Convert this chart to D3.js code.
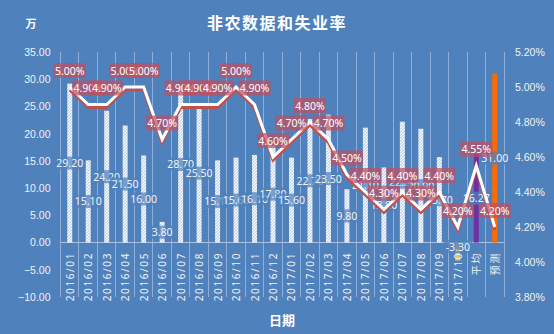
<!DOCTYPE html>
<html><head><meta charset="utf-8">
<script src="https://cdn.jsdelivr.net/npm/d3@7"></script>
<style>
html,body{margin:0;padding:0;background:#4F81BD;}
svg{display:block;font-family:"Noto Sans","Noto Sans CJK SC",sans-serif;}
</style></head>
<body>
<svg id="c" width="554" height="334"></svg>
<script>
const categories = ["2016/01","2016/02","2016/03","2016/04","2016/05","2016/06","2016/07","2016/08","2016/09","2016/10","2016/11","2016/12",
  "2017/01","2017/02","2017/03","2017/04","2017/05","2017/06","2017/07","2017/08","2017/09","2017/10","平均","预测"];
const nonfarm = [29.2,15.1,24.2,21.5,16.0,3.8,28.7,25.5,15.1,15.6,16.1,17.8,15.6,22.7,23.5,9.8,21.1,13.8,22.2,20.9,15.7,-3.3,16.27,31.0];
const unemployment = [5.0,4.9,4.9,5.0,5.0,4.7,4.9,4.9,4.9,5.0,4.9,4.6,4.7,4.8,4.7,4.5,4.4,4.3,4.4,4.3,4.4,4.2,4.55,4.2];
const barKinds = ["h","h","h","h","h","h","h","h","h","h","h","h","h","h","h","h","h","h","h","h","h","y","p","o"];
const leftTicks = [35,30,25,20,15,10,5,0,-5,-10];
const rightTicks = [5.2,5.0,4.8,4.6,4.4,4.2,4.0,3.8];
const title = "非农数据和失业率";
const leftUnit = "万";
const xTitle = "日期";

const svg = d3.select("#c");
const W = 554, H = 334;
const L = 60.5, R = 504, T = 52, B = 297;
svg.append("rect").attr("width",W).attr("height",H).attr("fill","#4F81BD");

const defs = svg.append("defs");
const pat = defs.append("pattern").attr("id","hatch").attr("patternUnits","userSpaceOnUse")
  .attr("width",3).attr("height",3);
pat.append("path").attr("d","M-1,1 L1,-1 M0,3 L3,0 M2,4 L4,2").attr("stroke","#fff").attr("stroke-width",1.7);

const x = d3.scaleBand().domain(categories).range([L,R]).padding(0);
const yL = d3.scaleLinear().domain([-10,35]).range([B,T]);
const yR = d3.scaleLinear().domain([3.8,5.2]).range([B,T]);

// gridlines (vertical, category boundaries)
const bounds = categories.map(c=>x(c)).concat([R]);
svg.append("g").selectAll("line").data(bounds).join("line")
  .attr("x1",d=>d).attr("x2",d=>d).attr("y1",T).attr("y2",B)
  .attr("stroke","#8FAEDA").attr("stroke-width",1).attr("shape-rendering","crispEdges");
// zero baseline
svg.append("line").attr("x1",L).attr("x2",R).attr("y1",yL(0)).attr("y2",yL(0))
  .attr("stroke","#A9C0E3").attr("stroke-width",1).attr("shape-rendering","crispEdges");

// axes
const axL = svg.append("g").attr("transform",`translate(${L},0)`)
  .call(d3.axisLeft(yL).tickValues(leftTicks).tickFormat(d3.format(".2f")).tickSize(0).tickPadding(10));
axL.select(".domain").remove();
axL.selectAll("text").attr("fill","#F2F2F2").attr("font-size","10.5px");
const axR = svg.append("g").attr("transform",`translate(${R},0)`)
  .call(d3.axisRight(yR).tickValues(rightTicks).tickFormat(d=>d.toFixed(2)+"%").tickSize(0).tickPadding(11));
axR.select(".domain").remove();
axR.selectAll("text").attr("fill","#F2F2F2").attr("font-size","10.5px");

// bars
const bw = 5;
const colorOf = k => k==="h" ? "url(#hatch)" : k==="y" ? "#EBC25A" : k==="p" ? "#7030A0" : "#FF6A00";
const data = categories.map((c,i)=>({c, v:nonfarm[i], u:unemployment[i], k:barKinds[i]}));
svg.append("g").selectAll("rect").data(data).join("rect")
  .attr("x",d=>x(d.c)+x.bandwidth()/2-bw/2)
  .attr("width",bw)
  .attr("y",d=>Math.min(yL(d.v),yL(0)))
  .attr("height",d=>Math.abs(yL(d.v)-yL(0)))
  .attr("fill",d=>colorOf(d.k));

// bar labels (centered in bar)
const bl = svg.append("g");
data.forEach(d=>{
  const cx = x(d.c)+x.bandwidth()/2;
  const cy = d.v<0 ? yL(0)+4 : (yL(d.v)+yL(0))/2;
  const g = bl.append("g");
  const t = g.append("text").attr("x",cx).attr("y",cy).attr("text-anchor","middle")
    .attr("dominant-baseline","central").attr("fill","#F2F2F2").attr("font-size","10.5px")
    .text(d.v.toFixed(2));
  const bb = t.node().getBBox();
  g.insert("rect","text").attr("x",bb.x-2).attr("y",cy-6.5).attr("width",bb.width+4).attr("height",13)
    .attr("fill","#4F81BD").attr("fill-opacity",0.72);
});

// line
const line = d3.line().x(d=>x(d.c)+x.bandwidth()/2).y(d=>yR(d.u));
svg.append("path").datum(data).attr("d",line).attr("fill","none").attr("stroke","#C0504D")
  .attr("stroke-width",3).attr("transform","translate(0,3)").attr("stroke-linejoin","miter");
svg.append("path").datum(data).attr("d",line).attr("fill","none").attr("stroke","#FFFFFF")
  .attr("stroke-width",3).attr("stroke-linejoin","miter");

// percent labels
const pl = svg.append("g");
data.forEach(d=>{
  const cx = x(d.c)+x.bandwidth()/2;
  const cy = yR(d.u)-16.5;
  const g = pl.append("g");
  g.append("text").attr("x",cx).attr("y",cy).attr("text-anchor","middle")
    .attr("dominant-baseline","central").attr("fill","#FFFFFF").attr("font-size","10.5px")
    .text(d.u.toFixed(2)+"%");
  g.insert("rect","text").attr("x",cx-16).attr("y",cy-7.5).attr("width",32).attr("height",15)
    .attr("fill","#BF4F5E").attr("fill-opacity",0.72);
});

// x labels
svg.append("g").selectAll("text").data(categories).join("text")
  .attr("transform",d=>`translate(${x(d)+x.bandwidth()/2},252) rotate(-90)`)
  .attr("text-anchor","end").attr("dominant-baseline","central")
  .attr("fill","#F2F2F2").attr("font-size","10px").attr("letter-spacing","1.6px")
  .text(d=>d);

// titles
svg.append("text").attr("x",277).attr("y",22).attr("text-anchor","middle").attr("dominant-baseline","central")
  .attr("fill","#fff").attr("font-size","16px").attr("font-weight","bold").attr("letter-spacing","1.5px")
  .attr("font-family","Noto Sans CJK SC").text(title);
svg.append("text").attr("x",31).attr("y",23).attr("text-anchor","middle").attr("dominant-baseline","central")
  .attr("fill","#fff").attr("font-size","11px").attr("font-weight","bold")
  .attr("font-family","Noto Sans CJK SC").text(leftUnit);
svg.append("text").attr("x",282).attr("y",319).attr("text-anchor","middle").attr("dominant-baseline","central")
  .attr("fill","#fff").attr("font-size","13px").attr("font-weight","bold")
  .attr("font-family","Noto Sans CJK SC").text(xTitle);
</script>
</body></html>
